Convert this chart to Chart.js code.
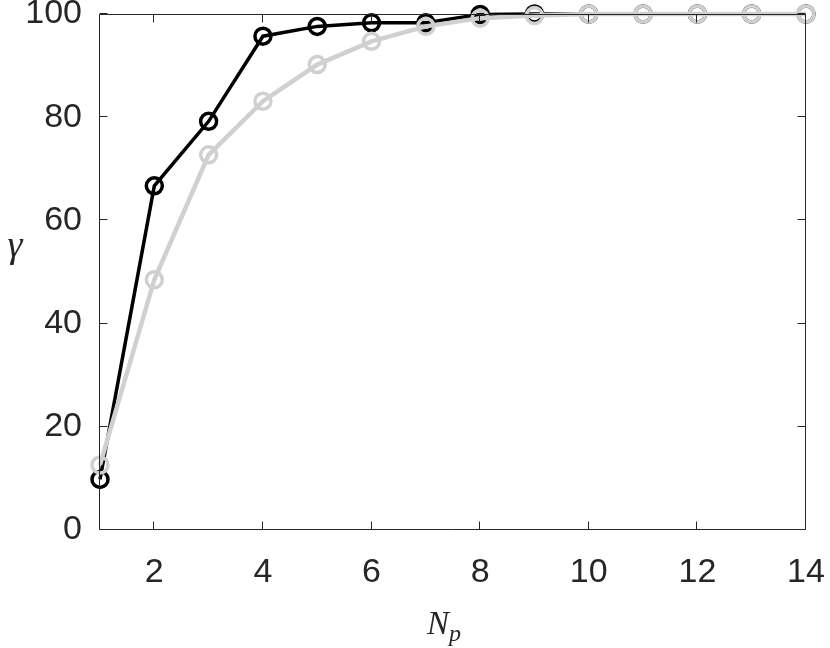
<!DOCTYPE html>
<html>
<head>
<meta charset="utf-8">
<script src="https://cdn.jsdelivr.net/npm/chart.js@4"></script>
<style>
  html, body { margin: 0; padding: 0; background: #fff; }
  canvas { display: block; }
</style>
</head>
<body>
<canvas id="chart" width="830" height="648"></canvas>
<script>
  // N_p values
  const np = [1, 2, 3, 4, 5, 6, 7, 8, 9, 10, 11, 12, 13, 14];
  // gamma, black series
  const gammaBlack = [9.8, 66.7, 79.2, 95.7, 97.6, 98.3, 98.3, 99.9, 100, 100, 100, 100, 100, 100];
  // gamma, light grey series
  const gammaGrey = [12.6, 48.5, 72.7, 83.1, 90.2, 94.7, 97.6, 99.2, 99.7, 100, 100, 100, 100, 100];

  const xTicks = [2, 4, 6, 8, 10, 12, 14];
  const yTicks = [0, 20, 40, 60, 80, 100];

  const TXT = "#262626";
  const tickFont = { family: "'Liberation Sans', Arial, sans-serif", size: 34 };

  const toXY = (ys) => np.map((x, i) => ({ x, y: ys[i] }));

  // box + inward ticks on all four sides, drawn over the data (as in MATLAB)
  const boxPlugin = {
    id: "box",
    afterDatasetsDraw(chart) {
      const { ctx, chartArea: a, scales } = chart;
      const L = Math.round(a.left) - 0.5, R = Math.round(a.right) - 0.5;
      const T = Math.round(a.top) + 0.5, B = Math.round(a.bottom) - 0.5;
      const len = 8;
      ctx.save();
      ctx.strokeStyle = TXT;
      ctx.lineWidth = 1;
      ctx.beginPath();
      ctx.rect(L, T, R - L, B - T);
      for (const v of xTicks) {
        const px = Math.round(scales.x.getPixelForValue(v)) - 0.5;
        ctx.moveTo(px, B); ctx.lineTo(px, B - len);
        ctx.moveTo(px, T); ctx.lineTo(px, T + len);
      }
      for (const v of yTicks) {
        const py = Math.round(scales.y.getPixelForValue(v)) - 0.5;
        ctx.moveTo(L, py); ctx.lineTo(L + len, py);
        ctx.moveTo(R, py); ctx.lineTo(R - len, py);
      }
      ctx.stroke();

      // axis titles (italic math style)
      ctx.fillStyle = TXT;
      ctx.textBaseline = "alphabetic";
      ctx.textAlign = "left";
      ctx.font = "italic 33px 'Liberation Serif', 'Times New Roman', serif";
      ctx.fillText("N", 427, 634);
      const nw = ctx.measureText("N").width;
      ctx.font = "italic 24px 'Liberation Serif', 'Times New Roman', serif";
      ctx.fillText("p", 427 + nw, 641);
      ctx.font = "italic 38px 'Liberation Serif', 'Times New Roman', serif";
      ctx.textAlign = "center";
      ctx.fillText("γ", 15, 257);
      ctx.restore();
    },
  };

  new Chart(document.getElementById("chart"), {
    type: "line",
    data: {
      datasets: [
        {
          label: "grey",
          data: toXY(gammaGrey),
          borderColor: "#d0d0d0",
          borderWidth: 4.5,
          pointRadius: 8,
          pointBorderWidth: 3.5,
          pointBackgroundColor: "rgba(0,0,0,0)",
          pointBorderColor: "#d0d0d0",
          tension: 0,
        },
        {
          label: "black",
          data: toXY(gammaBlack),
          borderColor: "#000",
          borderWidth: 3.5,
          pointRadius: 8,
          pointBorderWidth: 3.5,
          pointBackgroundColor: "rgba(0,0,0,0)",
          pointBorderColor: "#000",
          tension: 0,
        },
      ],
    },
    options: {
      responsive: false,
      animation: false,
      devicePixelRatio: 1,
      clip: false,
      layout: { padding: { top: 14, right: 24, left: 0, bottom: 0 } },
      plugins: { legend: { display: false }, tooltip: { enabled: false } },
      scales: {
        x: {
          type: "linear",
          min: 1,
          max: 14,
          afterBuildTicks: (s) => { s.ticks = xTicks.map((v) => ({ value: v })); },
          afterFit: (s) => { s.height = 118; s.paddingLeft = 0; s.paddingRight = 0; },
          grid: { display: false, drawTicks: false },
          border: { display: false },
          ticks: { color: TXT, font: tickFont, padding: 22, maxRotation: 0 },
        },
        y: {
          type: "linear",
          min: 0,
          max: 100,
          afterBuildTicks: (s) => { s.ticks = yTicks.map((v) => ({ value: v })); },
          afterFit: (s) => { s.width = 100; s.paddingTop = 0; s.paddingBottom = 0; },
          grid: { display: false, drawTicks: false },
          border: { display: false },
          ticks: { color: TXT, font: tickFont, padding: 18 },
        },
      },
    },
    plugins: [boxPlugin],
  });
</script>
</body>
</html>
